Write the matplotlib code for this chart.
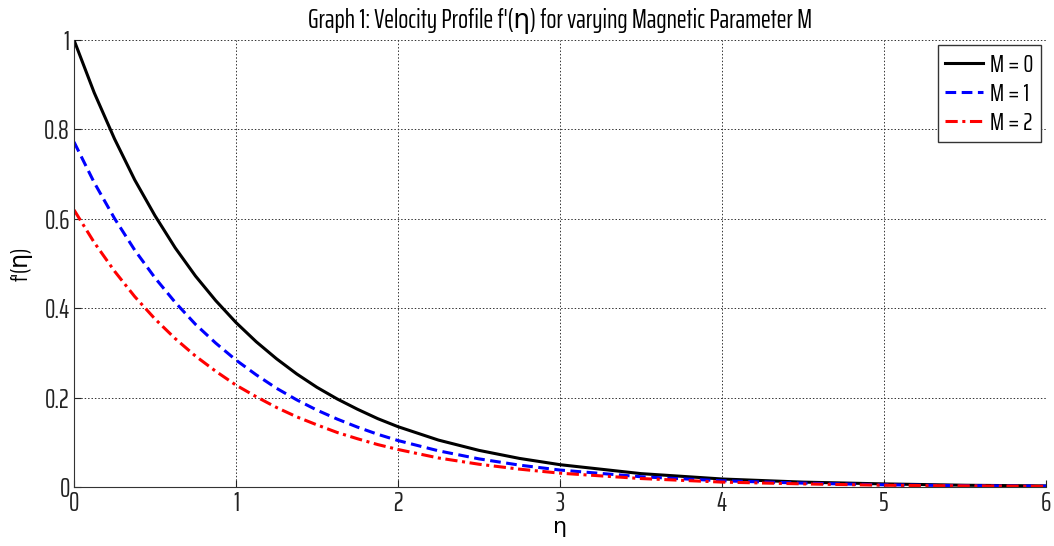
import matplotlib
matplotlib.use('Agg')
import matplotlib.pyplot as plt

# eta values and velocity profiles
eta = [0, 0.125, 0.25, 0.375, 0.5, 0.625, 0.75, 0.875, 1.0, 1.125, 1.25, 1.375,
       1.5, 1.625, 1.75, 1.875, 2.0, 2.25, 2.5, 2.75, 3.0, 3.5, 4.0, 4.5,
       5.0, 5.5, 6.0]
f_m0 = [1.0, 0.882, 0.779, 0.687, 0.607, 0.535, 0.472, 0.417, 0.368, 0.325,
        0.287, 0.253, 0.223, 0.197, 0.174, 0.153, 0.135, 0.105, 0.082, 0.064,
        0.050, 0.030, 0.018, 0.011, 0.007, 0.004, 0.0025]
f_m1 = [0.772, 0.681, 0.601, 0.530, 0.468, 0.413, 0.364, 0.322, 0.284, 0.251,
        0.221, 0.195, 0.172, 0.152, 0.134, 0.118, 0.104, 0.081, 0.063, 0.049,
        0.038, 0.023, 0.014, 0.0087, 0.005, 0.003, 0.002]
f_m2 = [0.620, 0.547, 0.483, 0.426, 0.376, 0.332, 0.293, 0.259, 0.228, 0.202,
        0.178, 0.157, 0.139, 0.122, 0.108, 0.095, 0.084, 0.065, 0.051, 0.040,
        0.031, 0.019, 0.011, 0.007, 0.004, 0.0025, 0.0015]

x_ticks = [0, 1, 2, 3, 4, 5, 6]
y_ticks = [0, 0.2, 0.4, 0.6, 0.8, 1]
y_labels = ['0', '0.2', '0.4', '0.6', '0.8', '1']

plt.rcParams['font.family'] = ['Saira ExtraCondensed', 'DejaVu Sans']

fig = plt.figure(figsize=(10.54, 5.46), dpi=100)
ax = fig.add_axes([0.0702, 0.108, 0.9222, 0.8187])

ax.plot(eta, f_m0, color='black', linestyle='-', linewidth=2.2, label='M = 0')
ax.plot(eta, f_m1, color='blue', linestyle=(0, (3.5, 1.8)), linewidth=2.2, label='M = 1')
ax.plot(eta, f_m2, color='red', linestyle=(0, (4, 1.5, 1, 1.5)), linewidth=2.2, label='M = 2')

ax.set_xlim(0, 6)
ax.set_ylim(0, 1)
ax.set_xticks(x_ticks)
ax.set_yticks(y_ticks)
ax.set_yticklabels(y_labels)
ax.tick_params(direction='in', length=5, labelsize=19, colors='#222222', pad=3)
ax.grid(True, color='#333333', linestyle=(0, (1.5, 2)), linewidth=0.7)

ax.spines['top'].set_visible(False)
ax.spines['right'].set_visible(False)
ax.spines['left'].set_color('#333333')
ax.spines['bottom'].set_color('#333333')

ax.set_title("Graph 1: Velocity Profile f'(η) for varying Magnetic Parameter M",
             fontsize=19, pad=9)
ax.set_xlabel('η', fontsize=16, labelpad=0)
ax.set_ylabel("f'(η)", fontsize=17, labelpad=8)

leg = ax.legend(loc='upper right', fontsize=18, fancybox=False, framealpha=1,
                edgecolor='#333333', handlelength=1.5, handletextpad=0.3,
                borderaxespad=0.2, labelspacing=0.2, borderpad=0.3)
leg.get_frame().set_linewidth(1.0)

fig.savefig('out.png', dpi=100)
